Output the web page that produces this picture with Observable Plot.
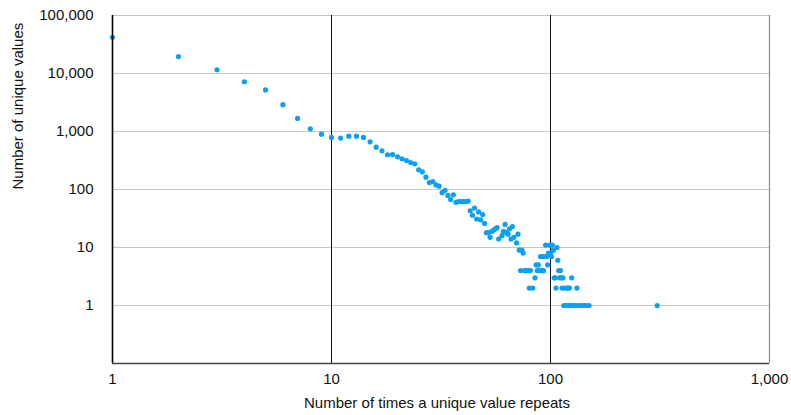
<!DOCTYPE html>
<html>
<head>
<meta charset="utf-8">
<script src="https://cdn.jsdelivr.net/npm/d3@7"></script>
<script src="https://cdn.jsdelivr.net/npm/@observablehq/plot@0.6"></script>
<style>
  html, body { margin: 0; padding: 0; background: #fff; }
  svg { display: block; }
</style>
</head>
<body>
<div id="chart"></div>
<script>
// Number of times a unique value repeats
const repeats = [
  1, 2, 3, 4, 5, 6, 7, 8, 9, 10,
  11, 12, 13, 14, 15, 16, 17, 18, 19, 20,
  21, 22, 23, 24, 25, 26, 27, 28, 29, 30,
  31, 32, 33, 34, 35, 36, 37, 38, 39, 40,
  41, 42, 43, 44, 45, 46, 47, 48, 49, 50,
  51, 52, 53, 54, 55, 56, 57, 58, 60, 61,
  62, 63, 64, 65, 66, 67, 68, 70, 71, 72,
  73, 74, 75, 76, 77, 78, 79, 80, 81, 83,
  85, 86, 87, 88, 89, 90, 91, 92, 93, 94,
  95, 96, 97, 98, 99, 100, 101, 102, 103, 104,
  105, 106, 107, 108, 109, 110, 111, 112, 113, 114,
  115, 116, 117, 118, 119, 120, 121, 122, 123, 124,
  125, 126, 128, 130, 132, 134, 137, 140, 143, 146,
  150, 307
];
// Number of unique values with that repeat count
const uniqueValues = [
  42000, 19600, 11600, 7200, 5200, 2900, 1680, 1110, 900, 790,
  770, 830, 830, 790, 665, 537, 465, 397, 400, 366,
  338, 316, 292, 277, 218, 202, 163, 132, 137, 120,
  114, 88, 97, 79, 67, 81, 60, 62, 62, 62,
  62, 63, 43, 36, 48, 31, 41, 30, 37, 26,
  18, 18, 15, 19, 20, 21, 22, 14, 16, 19,
  25, 18, 17, 21, 14, 23, 15, 12, 17, 9,
  4, 9, 8, 4, 4, 4, 4, 2, 4, 2,
  3, 5, 4, 5, 4, 7, 4, 7, 4, 7,
  11, 7, 5, 8, 11, 8, 7, 11, 9, 3,
  3, 2, 10, 6, 4, 3, 4, 3, 2, 3,
  1, 2, 1, 1, 2, 2, 1, 2, 1, 1,
  3, 1, 1, 1, 2, 1, 1, 1, 1, 1,
  1, 1
];
const xTicks = [1, 10, 100, 1000];
const yTicks = [1, 10, 100, 1000, 10000, 100000];

const data = repeats.map((r, i) => ({repeats: r, count: uniqueValues[i]}));
const fmt = d3.format(",");
const font = "'Liberation Sans', Arial, Helvetica, sans-serif";

const chart = Plot.plot({
  width: 791,
  height: 415,
  marginLeft: 112,
  marginRight: 22,
  marginTop: 15,
  marginBottom: 52,
  style: {fontFamily: font, fontSize: "15px", color: "#111", background: "#fff"},
  x: {type: "log", domain: [1, 1000]},
  y: {type: "log", domain: [0.1, 100000]},
  marks: [
    Plot.ruleY(yTicks, {stroke: "#c6c6c6", strokeWidth: 1.2}),
    Plot.ruleX([1000], {stroke: "#8a8a8a", strokeWidth: 1.2}),
    Plot.ruleX(xTicks.slice(1, 3), {stroke: "#111", strokeWidth: 1}),
    Plot.axisX({ticks: xTicks, tickFormat: fmt, tickSize: 0, tickPadding: 10, label: null, fontSize: 15}),
    Plot.axisY({ticks: yTicks, tickFormat: fmt, tickSize: 0, tickPadding: 19, label: null, fontSize: 15}),
    Plot.dot(data, {x: "repeats", y: "count", r: 2.6, fill: "#0ca0f4", stroke: null}),
    Plot.ruleX([1], {stroke: "#000", strokeWidth: 1.6}),
    Plot.ruleY([0.1], {stroke: "#444", strokeWidth: 1.4}),
    Plot.text(["Number of times a unique value repeats"], {frameAnchor: "bottom", dx: -4, dy: 44, fontSize: 15, fill: "#111"}),
    Plot.text(["Number of unique values"], {frameAnchor: "left", dx: -94, rotate: -90, fontSize: 15, fill: "#111"})
  ]
});
document.getElementById("chart").appendChild(chart);
</script>
</body>
</html>
